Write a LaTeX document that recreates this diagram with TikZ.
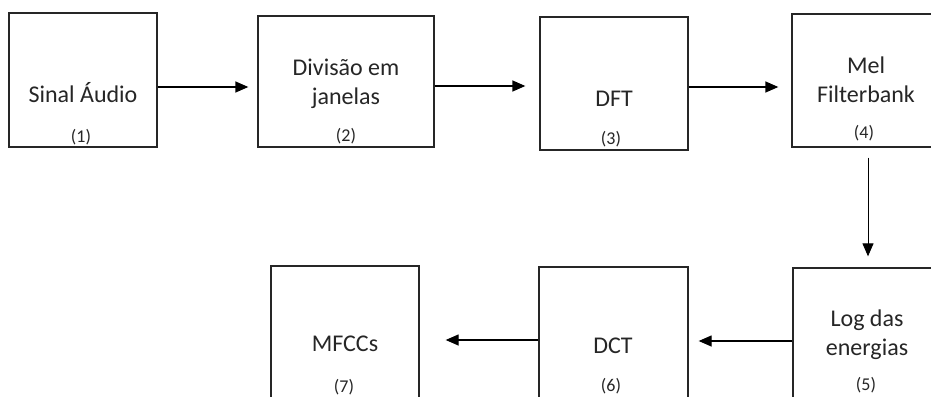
\documentclass[tikz,border=0pt]{standalone}
\usepackage{fontspec}
\setmainfont{Carlito}
\usetikzlibrary{arrows.meta}
\definecolor{ink}{HTML}{262626}
\tikzset{
  box/.style={draw=ink, line width=1.3pt, minimum width=148pt, minimum height=134pt, inner sep=0pt},
  title/.style={text=ink, align=center, font=\fontsize{24}{29}\selectfont, inner sep=0pt},
  num/.style={text=ink, font=\fontsize{18}{20}\selectfont, inner sep=0pt},
  arr/.style={draw=black, line width=1.3pt, -{Triangle[length=13pt,width=11pt]}}
}
\begin{document}
\begin{tikzpicture}[x=1pt,y=-1pt]
\useasboundingbox (0,0) rectangle (931,396);
\clip (0,0) rectangle (931,396);
\fill[white] (0,0) rectangle (931,396);
% processing blocks
\node[box] (b1) at (83,80) {};
\node[box, minimum width=176pt, minimum height=131pt] (b2) at (346,81.5) {};
\node[box, minimum height=133pt] (b3) at (614,83.5) {};
\node[box, minimum height=133pt] (b4) at (866,80.5) {};
\node[box] (b5) at (867,335) {};
\node[box, minimum width=149pt] (b6) at (613.5,334) {};
\node[box] (b7) at (345,333) {};
% block labels
\node[title] (t1) at (83,93) {Sinal Áudio};
\node[num] (n1) at (81,137) {(1)};
\node[title] (t2) at (346,84) {Divisão em\\janelas};
\node[num] (n2) at (346,136) {(2)};
\node[title] (t3) at (614,99) {DFT};
\node[num] (n3) at (611,139) {(3)};
\node[title] (t4) at (866,80) {Mel\\Filterbank};
\node[num] (n4) at (864,133) {(4)};
\node[title] (t5) at (867,335) {Log das\\energias};
\node[num] (n5) at (866,385) {(5)};
\node[title] (t6) at (613,346) {DCT};
\node[num] (n6) at (611,386) {(6)};
\node[title] (t7) at (345,344) {MFCCs};
\node[num] (n7) at (344,387) {(7)};
% signal flow
\draw[arr, shorten >=9pt] ([yshift=-7pt]b1.east) -- ([yshift=-7pt]b1.east -| b2.west);
\draw[arr, shorten >=14pt] ([yshift=-4.5pt]b2.east) -- ([yshift=-4.5pt]b2.east -| b3.west);
\draw[arr, shorten >=13pt] ([yshift=-3.5pt]b3.east) -- ([yshift=-3.5pt]b3.east -| b4.west);
\draw[arr, line width=1pt, shorten <=10pt, shorten >=11pt] ([xshift=2pt]b4.south) -- ([xshift=2pt]b4.south |- b5.north);
\draw[arr, shorten >=10pt] ([yshift=-6pt]b5.west) -- ([yshift=-6pt]b5.west -| b6.east);
\draw[arr, shorten >=26pt] ([yshift=-6pt]b6.west) -- ([yshift=-6pt]b6.west -| b7.east);
\end{tikzpicture}
\end{document}
